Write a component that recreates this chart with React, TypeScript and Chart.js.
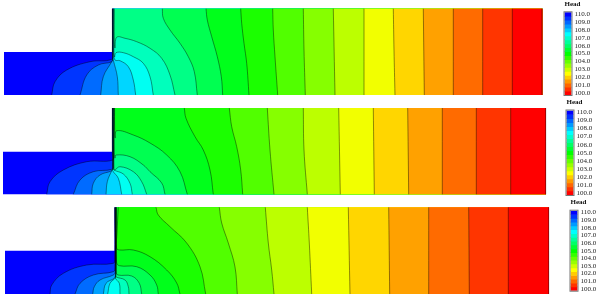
import React, { useEffect, useRef } from "react";
import { Chart, registerables } from "chart.js";

Chart.register(...registerables);

type Pt = [number, number];

// Head levels of the colour bar, top to bottom
const legendHeads = [110, 109.5, 109, 108.5, 108, 107.5, 107, 106.5, 106, 105.5, 105, 104.5, 104, 103.5, 103, 102.5, 102, 101.5, 101, 100.5, 100];
const legendColors = ["#0000ff", "#0033ff", "#0066ff", "#0099ff", "#00ccff", "#00ffff", "#00ffcc", "#00ff99", "#00ff66", "#00ff33", "#00ff00", "#33ff00", "#66ff00", "#99ff00", "#ccff00", "#ffff00", "#ffcc00", "#ff9900", "#ff6600", "#ff3300", "#ff0000"];
const legendTicks = [100, 101, 102, 103, 104, 105, 106, 107, 108, 109, 110];

// Flood colours: the domain starts in the highest-head band, then each contour (high head first)
// floods everything on its far side with the next band.
const highestBand = "#0000ff";
const bandColors = ["#0035ff", "#006bff", "#00a1ff", "#00d6ff", "#00fff2", "#00ffbc", "#00ff86", "#00ff51", "#00ff1b", "#1bff00", "#51ff00", "#86ff00", "#bcff00", "#f2ff00", "#ffd600", "#ffa100", "#ff6b00", "#ff3500", "#ff0000", "#ff0000"];

// Domain outlines (distance, depth)
const domainA: Pt[] = [[4, 52], [112, 52], [112, 8.7], [542.3, 8.7], [542.3, 95], [4, 95]];
const domainB: Pt[] = [[3, 151.7], [112, 151.7], [112, 108], [546, 108], [546, 194.3], [3, 194.3]];
const domainC: Pt[] = [[5, 250.7], [114.5, 250.7], [114.5, 207.3], [549, 207.3], [549, 294], [5, 294]];

// Contours (distance, depth), high head first; the last is the 100.0 boundary
const contoursA: Pt[][] = [
  [[112.3, 8.7], [112.3, 52], [111.7, 59.3], [90, 61.7], [66.7, 70], [55, 81.7], [51.7, 95]],
  [[112.5, 8.7], [112.5, 58], [111.7, 61.7], [98.3, 65], [86.7, 75], [80, 95]],
  [[112.7, 8.7], [112.7, 59], [111.7, 61.7], [103.3, 76.7], [100.7, 95]],
  [[113, 8.7], [113, 58], [113.3, 60], [117.3, 76.7], [118.3, 95]],
  [[113.4, 8.7], [113.4, 50], [115, 60], [120, 60.7], [128.3, 66.7], [133.3, 80], [135.7, 95]],
  [[113.8, 8.7], [113.8, 45], [114.5, 57], [116, 52.7], [123.3, 52.7], [133.3, 56.7], [143.3, 63.3], [150, 76.7], [153.3, 95]],
  [[114.2, 8.7], [114.2, 40], [115, 48], [116.7, 37.3], [125, 38.3], [136.7, 41.7], [150, 48.3], [161.7, 58.3], [170, 75], [175, 95]],
  [[162.3, 8.7], [163.3, 18.3], [170, 30], [180, 43.3], [188.3, 56.7], [194.3, 71.7], [197.3, 95]],
  [[206, 8.7], [207.3, 20], [211.7, 36.7], [217.3, 56.7], [221.3, 76.7], [222.7, 95]],
  [[240.7, 8.7], [241.7, 23.3], [244, 43.3], [246.7, 63.3], [249, 95]],
  [[272.7, 8.7], [273.3, 30], [275, 56.7], [277.7, 95]],
  [[303.3, 8.7], [304, 50], [305.3, 95]],
  [[333.3, 8.7], [335, 95]],
  [[364, 8.7], [364, 95]],
  [[393.3, 8.7], [394, 50], [395, 95]],
  [[423.3, 8.7], [424.3, 95]],
  [[453.3, 8.7], [453.3, 95]],
  [[482.7, 8.7], [482.7, 95]],
  [[512.3, 8.7], [512.3, 95]],
  [[542, 8.7], [542, 95]],
];

const contoursB: Pt[][] = [
  [[112.3, 108], [112.3, 152], [112.7, 160], [86.7, 161.7], [63.3, 170], [50, 181.7], [46.7, 194.3]],
  [[112.5, 108], [112.5, 165], [111.7, 169.3], [93.3, 171.7], [80, 180], [73.3, 194.3]],
  [[112.7, 108], [112.7, 168], [111.7, 170.7], [100, 175], [93.3, 183.3], [91.7, 194.3]],
  [[113, 108], [113, 168], [111.7, 170.7], [107.3, 181.7], [106, 194.3]],
  [[113.3, 108], [113.3, 168], [112.7, 170.7], [118.3, 178.3], [121.7, 194.3]],
  [[113.6, 108], [113.6, 168], [114, 170], [123.3, 174], [130, 183.3], [132.3, 194.3]],
  [[113.9, 108], [113.9, 168], [114.5, 170], [120, 166.7], [133.3, 171.7], [141.7, 181.7], [146.7, 194.3]],
  [[114.2, 108], [114.2, 150], [115, 158], [116, 155], [130, 156.7], [143.3, 165], [150, 171.7], [161.7, 183], [165, 194.3]],
  [[114.6, 108], [114.6, 125], [115.2, 138], [116.7, 130.7], [133.3, 135], [150, 143], [166.7, 155], [180, 171.7], [187.3, 194.3]],
  [[184.3, 108], [186, 118.3], [195, 136.7], [203.3, 150], [210, 170], [213.3, 194.3]],
  [[229.3, 108], [231.7, 126.7], [236.7, 146.7], [240.7, 170], [242.7, 194.3]],
  [[267.3, 108], [270, 150], [274, 194.3]],
  [[303.3, 108], [304, 150], [307.3, 194.3]],
  [[338.7, 108], [340.3, 194.3]],
  [[373.3, 108], [374.3, 194.3]],
  [[407.7, 108], [408.7, 194.3]],
  [[442.3, 108], [442.3, 194.3]],
  [[476.3, 108], [476.3, 194.3]],
  [[510.7, 108], [510.7, 194.3]],
  [[545.7, 108], [545.7, 194.3]],
];

const contoursC: Pt[][] = [
  [[114.8, 207.3], [114.8, 258], [113.3, 263.3], [86.7, 265], [63.3, 273.3], [51.7, 285], [50, 294]],
  [[115, 207.3], [115, 268], [113.3, 271.7], [93.3, 275], [80, 283.3], [75, 294]],
  [[115.2, 207.3], [115.2, 272], [113.3, 275], [100, 280], [94.3, 286.7], [92.7, 294]],
  [[115.4, 207.3], [115.4, 276], [114.3, 278.3], [106, 283.3], [103.3, 294]],
  [[115.6, 207.3], [115.6, 276], [115, 278.3], [110, 283.3], [107.7, 294]],
  [[115.8, 207.3], [115.8, 276], [115.3, 278.3], [119.3, 283.3], [120, 294]],
  [[116, 207.3], [116, 274], [115.7, 276.7], [125, 280], [128.3, 286.7], [129, 294]],
  [[116.2, 207.3], [116.2, 272], [118, 275], [131.7, 276], [139.3, 283.3], [141.7, 294]],
  [[116.5, 207.3], [116.5, 262], [119.3, 265.7], [136.7, 266.7], [150, 275], [156.7, 285], [158.3, 294]],
  [[118.3, 207.3], [117, 233], [116.5, 248], [119.3, 250], [133.3, 250], [150, 256.7], [166.7, 270], [176.7, 283], [180, 294]],
  [[156, 207.3], [158.3, 215], [170, 226.7], [186.7, 243], [200, 266.7], [205.7, 294]],
  [[219.3, 207.3], [221.7, 223], [228.3, 243], [235, 267], [237.3, 294]],
  [[265.3, 207.3], [268.3, 243], [271.7, 270], [274, 294]],
  [[307.3, 207.3], [309.3, 243], [311.7, 294]],
  [[348.3, 207.3], [350, 294]],
  [[388.7, 207.3], [389.7, 294]],
  [[428.7, 207.3], [428.7, 294]],
  [[468.7, 207.3], [469.3, 294]],
  [[508.3, 207.3], [508.3, 294]],
  [[548.7, 207.3], [548.7, 294]],
];

const serif = '"Liberation Serif", serif';

const floodPlugin = {
  id: "flood",
  beforeDatasetsDraw(chart: any) {
    const { ctx, scales, chartArea } = chart;
    const yS = scales.y;
    const xS = scales.x;
    ctx.save();
    chart.data.datasets.forEach((ds: any, i: number) => {
      const meta = chart.getDatasetMeta(i);
      const line = meta.dataset;
      const pts = ds.data;
      ctx.beginPath();
      if (ds.isDomain) {
        pts.forEach((p: any, k: number) => {
          const px = xS.getPixelForValue(p.x);
          const py = yS.getPixelForValue(p.y);
          if (k === 0) ctx.moveTo(px, py);
          else ctx.lineTo(px, py);
        });
      } else {
        line.updateControlPoints(chartArea, "x");
        line.path(ctx);
        const dom = chart.data.datasets[0].data;
        const right = dom[3].x;
        const top = dom[3].y;
        const bottom = dom[4].y;
        ctx.lineTo(xS.getPixelForValue(right), yS.getPixelForValue(bottom));
        ctx.lineTo(xS.getPixelForValue(right), yS.getPixelForValue(top));
      }
      ctx.closePath();
      ctx.fillStyle = ds.floodColor;
      ctx.fill();
    });
    ctx.restore();
  },
};

const framePlugin = {
  id: "frame",
  afterDatasetsDraw(chart: any) {
    const { ctx, chartArea: a } = chart;
    ctx.save();
    ctx.strokeStyle = "#777";
    ctx.lineWidth = 1;
    ctx.strokeRect(a.left - 0.5, a.top - 0.5, a.right - a.left + 1, a.bottom - a.top + 1);
    ctx.restore();
  },
};

function Panel({ domain, contours, top, height }: { domain: Pt[]; contours: Pt[][]; top: number; height: number }) {
  const ref = useRef<HTMLCanvasElement>(null);
  useEffect(() => {
    const toXY = (pts: Pt[]) => pts.map(([x, y]) => ({ x, y }));
    const chart = new Chart(ref.current as HTMLCanvasElement, {
      type: "scatter",
      data: {
        datasets: [
          { isDomain: true, floodColor: highestBand, data: toXY(domain), showLine: false, pointRadius: 0 } as any,
          ...contours.map(
            (c, i) =>
              ({
                floodColor: bandColors[i],
                data: toXY(c),
                showLine: true,
                pointRadius: 0,
                borderColor: "rgba(0,0,0,0.42)",
                borderWidth: 1,
                tension: 0.4,
              }) as any
          ),
        ],
      },
      options: {
        animation: false,
        responsive: false,
        maintainAspectRatio: false,
        layout: { padding: 0 },
        events: [],
        plugins: { legend: { display: false }, tooltip: { enabled: false } },
        scales: {
          x: { type: "linear", display: false, min: 0, max: 560 },
          y: { type: "linear", display: false, reverse: true, min: top, max: top + height },
        },
      },
      plugins: [floodPlugin],
    });
    return () => chart.destroy();
  }, [domain, contours, top, height]);
  return (
    <canvas
      ref={ref}
      width={560}
      height={height}
      style={{ position: "absolute", left: 0, top, width: 560, height }}
    />
  );
}

function ColorBar({ left, top, height, padTop, padBottom }: { left: number; top: number; height: number; padTop: number; padBottom: number }) {
  const ref = useRef<HTMLCanvasElement>(null);
  useEffect(() => {
    const chart = new Chart(ref.current as HTMLCanvasElement, {
      type: "bar",
      data: {
        labels: ["Head"],
        datasets: legendHeads.map((h, i) => ({
          label: String(h),
          data: [[h - 0.25, h + 0.25]] as any,
          backgroundColor: legendColors[i],
          borderWidth: 0,
          grouped: false,
          barPercentage: 1,
          categoryPercentage: 1,
        })),
      },
      options: {
        animation: false,
        responsive: false,
        maintainAspectRatio: false,
        events: [],
        layout: { padding: { left: 4.5, right: 0, top: 0, bottom: padBottom } },
        plugins: {
          legend: { display: false },
          tooltip: { enabled: false },
          title: {
            display: true,
            text: "Head",
            align: "start",
            color: "#111",
            font: { family: serif, size: 7, weight: "bold", lineHeight: 1 },
            padding: { top: 1, bottom: padTop - 8 },
          },
        },
        scales: {
          x: { display: false },
          y: {
            position: "right",
            min: 99.75,
            max: 110.25,
            grid: { display: false, drawTicks: false },
            border: { display: false },
            afterBuildTicks: (axis: any) => {
              axis.ticks = legendTicks.map((value) => ({ value }));
            },
            afterFit: (axis: any) => {
              axis.width = 26.5;
            },
            ticks: {
              autoSkip: false,
              padding: 3,
              color: "#222",
              font: { family: serif, size: 7 },
              callback: (v: any) => Number(v).toFixed(1),
            },
          },
        },
      },
      plugins: [framePlugin],
    });
    return () => chart.destroy();
  }, [left, top, height, padTop, padBottom]);
  return (
    <canvas
      ref={ref}
      width={38}
      height={height}
      style={{ position: "absolute", left, top, width: 38, height }}
    />
  );
}

export default function App() {
  return (
    <div
      style={{
        position: "fixed",
        left: 0,
        top: 0,
        width: 598,
        height: 294,
        overflow: "hidden",
        background: "#fff",
        filter: "blur(0.35px)",
      }}
    >
      <Panel domain={domainA} contours={contoursA} top={0} height={100} />
      <Panel domain={domainB} contours={contoursB} top={100} height={100} />
      <Panel domain={domainC} contours={contoursC} top={200} height={94} />
      <ColorBar left={560} top={0} height={103} padTop={12.3} padBottom={8} />
      <ColorBar left={562} top={98} height={105} padTop={12.5} padBottom={8} />
      <ColorBar left={566} top={198} height={101} padTop={12.7} padBottom={8.3} />
    </div>
  );
}
